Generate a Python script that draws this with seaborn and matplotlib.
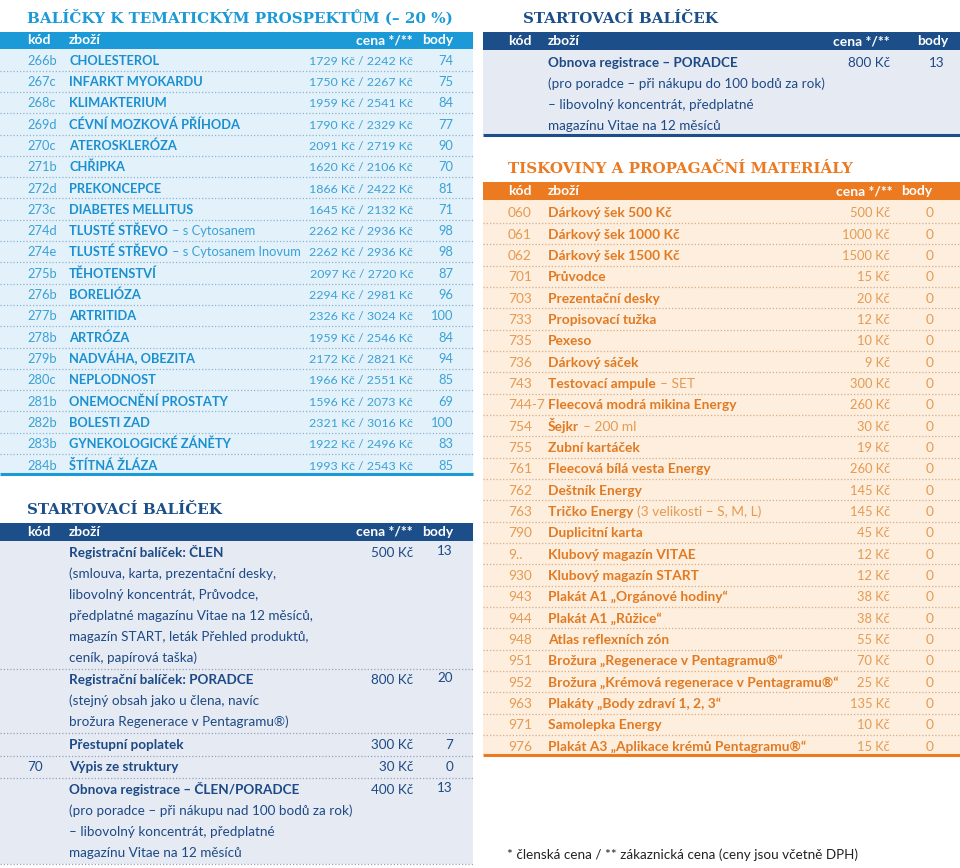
import matplotlib
matplotlib.use("Agg")
import matplotlib.pyplot as plt
from matplotlib.patches import Rectangle
import seaborn as sns

# ---------------- data ----------------
header_labels = ["kód", "zboží", "cena */**", "body"]

thematic_title = "BALÍČKY K TEMATICKÝM PROSPEKTŮM (– 20 %)"
thematic_codes = ["266b", "267c", "268c", "269d", "270c", "271b", "272d", "273c", "274d", "274e",
                  "275b", "276b", "277b", "278b", "279b", "280c", "281b", "282b", "283b", "284b"]
thematic_names = ["CHOLESTEROL", "INFARKT MYOKARDU", "KLIMAKTERIUM", "CÉVNÍ MOZKOVÁ PŘÍHODA",
                  "ATEROSKLERÓZA", "CHŘIPKA", "PREKONCEPCE", "DIABETES MELLITUS", "TLUSTÉ STŘEVO",
                  "TLUSTÉ STŘEVO", "TĚHOTENSTVÍ", "BORELIÓZA", "ARTRITIDA", "ARTRÓZA",
                  "NADVÁHA, OBEZITA", "NEPLODNOST", "ONEMOCNĚNÍ PROSTATY", "BOLESTI ZAD",
                  "GYNEKOLOGICKÉ ZÁNĚTY", "ŠTÍTNÁ ŽLÁZA"]
thematic_notes = ["", "", "", "", "", "", "", "", "– s Cytosanem", "– s Cytosanem Inovum",
                  "", "", "", "", "", "", "", "", "", ""]
thematic_member = [1729, 1750, 1959, 1790, 2091, 1620, 1866, 1645, 2262, 2262,
                   2097, 2294, 2326, 1959, 2172, 1966, 1596, 2321, 1922, 1993]
thematic_customer = [2242, 2267, 2541, 2329, 2719, 2106, 2422, 2132, 2936, 2936,
                     2720, 2981, 3024, 2546, 2821, 2551, 2073, 3016, 2496, 2543]
thematic_points = [74, 75, 84, 77, 90, 70, 81, 71, 98, 98, 87, 96, 100, 84, 94, 85, 69, 100, 83, 85]

start_title = "STARTOVACÍ BALÍČEK"
start_codes = ["", "", "", "70", ""]
start_names = ["Registrační balíček: ČLEN", "Registrační balíček: PORADCE", "Přestupní poplatek",
               "Výpis ze struktury", "Obnova registrace – ČLEN/PORADCE"]
start_details = [
    ["(smlouva, karta, prezentační desky,", "libovolný koncentrát, Průvodce,",
     "předplatné magazínu Vitae na 12 měsíců,", "magazín START, leták Přehled produktů,",
     "ceník, papírová taška)"],
    ["(stejný obsah jako u člena, navíc", "brožura Regenerace v Pentagramu®)"],
    [],
    [],
    ["(pro poradce – při nákupu nad 100 bodů za rok)", "– libovolný koncentrát, předplatné",
     "magazínu Vitae na 12 měsíců"],
]
start_prices = [500, 800, 300, 30, 400]
start_points = [13, 20, 7, 0, 13]

renew_names = ["Obnova registrace – PORADCE"]
renew_details = [["(pro poradce – při nákupu do 100 bodů za rok)", "– libovolný koncentrát, předplatné",
                  "magazínu Vitae na 12 měsíců"]]
renew_prices = [800]
renew_points = [13]

print_title = "TISKOVINY A PROPAGAČNÍ MATERIÁLY"
print_codes = ["060", "061", "062", "701", "703", "733", "735", "736", "743", "744-7", "754", "755",
               "761", "762", "763", "790", "9..", "930", "943", "944", "948", "951", "952", "963",
               "971", "976"]
print_names = ["Dárkový šek 500 Kč", "Dárkový šek 1000 Kč", "Dárkový šek 1500 Kč", "Průvodce",
               "Prezentační desky", "Propisovací tužka", "Pexeso", "Dárkový sáček", "Testovací ampule",
               "Fleecová modrá mikina Energy", "Šejkr", "Zubní kartáček", "Fleecová bílá vesta Energy",
               "Deštník Energy", "Tričko Energy", "Duplicitní karta", "Klubový magazín VITAE",
               "Klubový magazín START", "Plakát A1 „Orgánové hodiny“", "Plakát A1 „Růžice“",
               "Atlas reflexních zón", "Brožura „Regenerace v Pentagramu®“",
               "Brožura „Krémová regenerace v Pentagramu®“", "Plakáty „Body zdraví 1, 2, 3“",
               "Samolepka Energy", "Plakát A3 „Aplikace krémů Pentagramu®“"]
print_notes = ["", "", "", "", "", "", "", "", "– SET", "", "– 200 ml", "", "", "", "(3 velikosti – S, M, L)",
               "", "", "", "", "", "", "", "", "", "", ""]
print_prices = [500, 1000, 1500, 15, 20, 12, 10, 9, 300, 260, 30, 19, 260, 145, 145, 45, 12, 12,
                38, 38, 55, 70, 25, 135, 10, 15]
print_points = [0] * 26

footnote = "* členská cena / ** zákaznická cena (ceny jsou včetně DPH)"

# ---------------- style ----------------
sns.set_theme(style="white")
SANS = ["Lato", "DejaVu Sans"]
SERIF = ["DejaVu Serif"]
plt.rcParams["font.family"] = SANS

LB_HEAD, LB_BG, LB_NAME, LB_SOFT, LB_DOT = "#1c9ad8", "#e3f1fa", "#1a90d0", "#3aa2d6", "#8db5d3"
DB_HEAD, DB_BG, DB_TEXT, DB_DOT = "#1c4f8a", "#e6eaf3", "#1c4a86", "#97a3bd"
OR_HEAD, OR_BG, OR_NAME, OR_SOFT, OR_DOT = "#eb7a21", "#fdeedd", "#e27a22", "#e69a52", "#d9ad86"

FS_TH = 9.3      # thematic rows
FS_PRICE = 8.9   # thematic prices
FS_DB = 9.7      # starter sections
FS_OR = 9.9      # printed materials
FS_OR_PRICE = 9.3
FS_HEAD = 10.0
TFS = 10.9

fig = plt.figure(figsize=(9.6, 8.68), dpi=100)
ax = fig.add_axes([0, 0, 1, 1])
ax.set_xlim(0, 960)
ax.set_ylim(868, 0)
ax.axis("off")
renderer = fig.canvas.get_renderer()


def txt(x, y, s, size, weight="normal", color="k", ha="left", family=SANS):
    return ax.text(x, y, s, fontsize=size, fontweight=weight, color=color, ha=ha,
                   va="baseline", family=family)


def rich(x, y, bold, light, c_bold, c_light, size):
    t = txt(x, y, bold, size, weight="bold", color=c_bold)
    if light:
        w = t.get_window_extent(renderer).width
        txt(x + w + 4, y, light, size, color=c_light)


def rect(x0, y0, x1, y1, color):
    ax.add_patch(Rectangle((x0, y0), x1 - x0, y1 - y0, facecolor=color, edgecolor="none", zorder=0))


def dots(y, x0, x1, color):
    ax.hlines(y, x0, x1, colors=color, linestyles=(0, (1, 1.6)), lw=0.9, zorder=1)


def header(y0, y1, x0, x1, color, xs):
    rect(x0, y0, x1, y1, color)
    base = y1 - 5
    txt(xs[0], base, header_labels[0], FS_HEAD, weight="bold", color="white")
    txt(xs[1], base, header_labels[1], FS_HEAD, weight="bold", color="white")
    txt(xs[2], base, header_labels[2], FS_HEAD, weight="bold", color="white", ha="right")
    txt(xs[3], base, header_labels[3], FS_HEAD, weight="bold", color="white", ha="right")


BL = 4.8  # baseline offset from row centre

# ---------------- left: thematic packages ----------------
L0, L1 = 0, 473
txt(27, 23, thematic_title, TFS, weight="bold", color=LB_HEAD, family=SERIF)
header(31.5, 49.3, L0, L1, LB_HEAD, [27, 69, 413, 453])
pitch = 21.3
rows_y = [60 + i * pitch for i in range(len(thematic_codes))]
rect(L0, 49.3, L1, rows_y[-1] + 9.5, LB_BG)
for i, y in enumerate(rows_y):
    txt(27, y + BL, thematic_codes[i], FS_TH, color=LB_SOFT)
    rich(69, y + BL, thematic_names[i], thematic_notes[i], LB_NAME, LB_SOFT, FS_TH)
    txt(413, y + BL, f"{thematic_member[i]} Kč / {thematic_customer[i]} Kč", FS_PRICE,
        color=LB_SOFT, ha="right")
    txt(453, y + BL, str(thematic_points[i]), FS_TH, color=LB_SOFT, ha="right")
    if i < len(rows_y) - 1:
        dots(y + pitch / 2, L0, L1, LB_DOT)
ax.hlines(rows_y[-1] + 9.5, L0, L1, colors=LB_HEAD, lw=2.2, zorder=2)

# ---------------- left: starter packages ----------------
txt(27, 513.5, start_title, TFS, weight="bold", color=DB_HEAD, family=SERIF)
header(522.7, 541, L0, L1, DB_HEAD, [27, 69, 413, 453])
lp, gap_before, gap_after = 21.0, 11.5, 11.0
y = 552
seps = []
for i, name in enumerate(start_names):
    txt(27, y + BL, start_codes[i], FS_DB, color=DB_TEXT)
    txt(69, y + BL, name, FS_DB, weight="bold", color=DB_TEXT)
    txt(413, y + BL, f"{start_prices[i]} Kč", FS_DB, color=DB_TEXT, ha="right")
    txt(453, y + BL - (2 if start_details[i] else 0), str(start_points[i]), FS_DB,
        color=DB_TEXT, ha="right")
    for k, line in enumerate(start_details[i]):
        txt(69, y + (k + 1) * lp + BL, line, FS_DB, color=DB_TEXT)
    sep = y + len(start_details[i]) * lp + gap_before
    seps.append(sep)
    y = sep + gap_after
rect(L0, 541, L1, seps[-1], DB_BG)
for s in seps:
    dots(s, L0, L1, DB_DOT)

# ---------------- right: starter renewal ----------------
R0, R1 = 483, 960
txt(523, 22.7, start_title, TFS, weight="bold", color=DB_HEAD, family=SERIF)
header(31.7, 50, R0, R1, DB_HEAD, [508, 548, 890, 948])
y = 62
for i, name in enumerate(renew_names):
    txt(548, y + BL, name, FS_DB, weight="bold", color=DB_TEXT)
    txt(890, y + BL, f"{renew_prices[i]} Kč", FS_DB, color=DB_TEXT, ha="right")
    txt(945, y + BL, str(renew_points[i]), FS_DB, color=DB_TEXT, ha="right")
    for k, line in enumerate(renew_details[i]):
        txt(548, y + (k + 1) * lp + BL, line, FS_DB, color=DB_TEXT)
    bottom = y + len(renew_details[i]) * lp + 10
rect(R0, 50, R1, bottom, DB_BG)
ax.hlines(bottom, R0, R1, colors=DB_HEAD, lw=2.2, zorder=2)

# ---------------- right: printed materials ----------------
txt(508, 173.3, print_title, TFS, weight="bold", color=OR_HEAD, family=SERIF)
header(181.7, 200, R0, R1, OR_HEAD, [508, 548, 893, 932])
pitch2 = 21.33
rows2 = [212.5 + i * pitch2 for i in range(len(print_codes))]
rect(R0, 200, R1, rows2[-1] + 9.5, OR_BG)
for i, y in enumerate(rows2):
    txt(508, y + BL, print_codes[i], FS_OR, color=OR_SOFT)
    rich(548, y + BL, print_names[i], print_notes[i], OR_NAME, OR_SOFT, FS_OR)
    txt(890, y + BL, f"{print_prices[i]} Kč", FS_OR_PRICE, color=OR_SOFT, ha="right")
    txt(930, y + BL, str(print_points[i]), FS_OR, color=OR_SOFT, ha="center")
    if i < len(rows2) - 1:
        dots(y + pitch2 / 2, R0, R1, OR_DOT)
ax.hlines(rows2[-1] + 9.5, R0, R1, colors=OR_HEAD, lw=2.2, zorder=2)

txt(507, 859, footnote, FS_DB, color="#222222")

fig.savefig("out.png", dpi=100, facecolor="white")
